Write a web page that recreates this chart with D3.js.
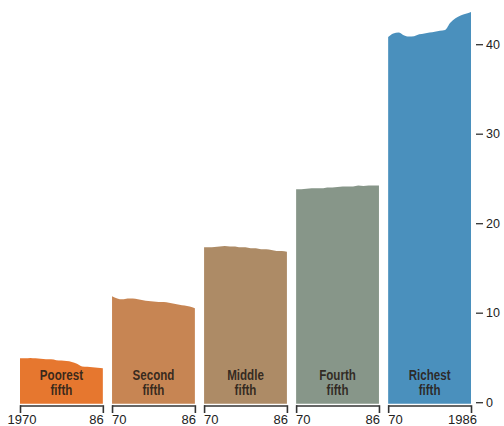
<!DOCTYPE html>
<html>
<head>
<meta charset="utf-8">
<script src="https://cdn.jsdelivr.net/npm/d3@7/dist/d3.min.js"></script>
<style>
  html, body { margin: 0; padding: 0; background: #fff; }
  svg { display: block; }
</style>
</head>
<body>
<svg id="chart" width="504" height="426"></svg>
<script>
// Share of aggregate household income by fifth, 1970-1986 (percent)
const years = d3.range(1970, 1987);
const groups = ["Poorest fifth", "Second fifth", "Middle fifth", "Fourth fifth", "Richest fifth"];
const poorest = [4.9, 4.9, 4.95, 4.9, 4.85, 4.8, 4.8, 4.7, 4.65, 4.6, 4.5, 4.3, 4.0, 3.95, 3.9, 3.85, 3.8];
const second  = [11.85, 11.6, 11.5, 11.6, 11.6, 11.5, 11.4, 11.3, 11.25, 11.2, 11.2, 11.1, 11.0, 10.9, 10.8, 10.7, 10.5];
const middle  = [17.3, 17.3, 17.35, 17.4, 17.45, 17.4, 17.4, 17.3, 17.3, 17.2, 17.2, 17.1, 17.1, 17.0, 16.9, 16.9, 16.8];
const fourth  = [23.8, 23.8, 23.85, 23.9, 23.9, 23.9, 24.0, 24.0, 24.05, 24.1, 24.1, 24.1, 24.2, 24.15, 24.2, 24.2, 24.2];
const richest = [40.8, 41.2, 41.3, 41.0, 40.85, 40.9, 41.1, 41.2, 41.3, 41.4, 41.5, 41.6, 42.4, 42.9, 43.2, 43.4, 43.6];
const yTicks = [0, 10, 20, 30, 40];
const yearLabels = [["1970", "86"], ["70", "86"], ["70", "86"], ["70", "86"], ["70", "1986"]];

const seriesList = [poorest, second, middle, fourth, richest];
const colors = ["#e6772f", "#c78553", "#ad8b66", "#879689", "#4a90bd"];

const svg = d3.select("#chart");

const band = d3.scaleBand().domain(groups).range([20, 471]).paddingInner(0.1).paddingOuter(0);
const y = d3.scaleLinear().domain([0, 40]).range([402.2, 44.2]);

const panels = svg.selectAll("g.panel")
  .data(groups.map((g, i) => ({ name: g, values: seriesList[i], color: colors[i], labels: yearLabels[i], i })))
  .join("g")
  .attr("class", "panel");

panels.each(function (d) {
  const g = d3.select(this);
  const x0 = band(d.name), x1 = x0 + band.bandwidth();
  const x = d3.scaleLinear().domain([1970, 1986]).range([x0, x1]);
  const area = d3.area()
    .x((v, k) => x(years[k]))
    .y0(y(0) + 1.5)
    .y1(v => y(v))
    .curve(d3.curveMonotoneX);

  g.append("path")
    .attr("d", area(d.values))
    .attr("fill", d.color);

  // group name inside the area, in a condensed bold face
  const [w1, w2] = d.name.split(" ");
  const cx = (x0 + x1) / 2;
  const lbl = g.append("text")
    .attr("transform", `translate(${cx},0) scale(0.8,1)`)
    .attr("text-anchor", "middle")
    .attr("font-family", "'Liberation Sans', Arial, sans-serif")
    .attr("font-weight", "bold")
    .attr("font-size", 14.5)
    .attr("fill", "#2a2119")
    .attr("fill-opacity", 0.92);
  lbl.append("tspan").attr("x", 0).attr("y", 380).text(w1);
  lbl.append("tspan").attr("x", 0).attr("y", 395).text(w2);

  // year bracket under each panel
  const ax = d3.axisBottom(x).tickValues([1970, 1986]).tickSize(7).tickFormat("");
  const axg = g.append("g").attr("transform", "translate(0,406)").call(ax);
  axg.select(".domain").attr("d", `M${x0},0H${x1}`).attr("stroke", "#333").attr("stroke-width", 1.6);
  axg.selectAll(".tick line").attr("stroke", "#333").attr("stroke-width", 1.6).attr("y1", -0.8);

  const font = "'Liberation Sans', Arial, sans-serif";
  g.append("text")
    .attr("x", d.i === 0 ? x0 + 2 : x0)
    .attr("y", 423.5)
    .attr("text-anchor", d.i === 0 ? "middle" : "start")
    .attr("font-family", font).attr("font-size", 13).attr("fill", "#222")
    .text(d.labels[0]);
  g.append("text")
    .attr("x", d.i === 4 ? x1 + 6 : x1 + 1)
    .attr("y", 423.5)
    .attr("text-anchor", "end")
    .attr("font-family", font).attr("font-size", 13).attr("fill", "#222")
    .text(d.labels[1]);
});

// value axis on the right
const yAxis = d3.axisRight(y).tickValues(yTicks).tickSize(0).tickPadding(0).tickFormat(d3.format("d"));
const yg = svg.append("g").attr("transform", "translate(476,0)").call(yAxis);
yg.select(".domain").remove();
yg.selectAll(".tick line").attr("x1", 0).attr("x2", 7).attr("stroke", "#333").attr("stroke-width", 1.3);
yg.selectAll(".tick text")
  .attr("x", 10)
  .attr("font-family", "'Liberation Sans', Arial, sans-serif")
  .attr("font-size", 12.5)
  .attr("fill", "#222");
</script>
</body>
</html>
